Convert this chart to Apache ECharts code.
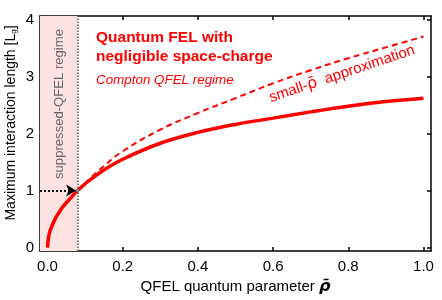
<!DOCTYPE html>
<html><head><meta charset="utf-8">
<script src="https://cdn.jsdelivr.net/npm/echarts@6/dist/echarts.min.js"></script>
<style>html,body{margin:0;padding:0;background:#fff}#c{width:442px;height:300px}</style>
</head><body><div id="c"></div>
<script>
const xTicks = [0, 0.2, 0.4, 0.6, 0.8, 1.0];
const yTicks = [0, 1, 2, 3, 4];
const rhoSolid = [0, 0.002, 0.005, 0.01, 0.02, 0.03, 0.04, 0.06, 0.08, 0.1, 0.15, 0.2, 0.3, 0.4, 0.5, 0.6, 0.7, 0.8, 0.9, 1.0];
const lenSolid = [0, 0.15, 0.25, 0.35, 0.5, 0.61, 0.71, 0.86, 1.0, 1.12, 1.36, 1.55, 1.83, 2.02, 2.16, 2.27, 2.38, 2.48, 2.56, 2.62];
const rhoDash = [0.08, 0.1, 0.15, 0.2, 0.3, 0.4, 0.5, 0.6, 0.7, 0.8, 0.9, 1.0];
const lenDash = [1.0, 1.13, 1.43, 1.69, 2.07, 2.36, 2.62, 2.88, 3.11, 3.32, 3.51, 3.7];
const rhoThreshold = 0.08;
const lenThreshold = 1;
const xMin = -0.02, xMax = 1.02, yMin = -0.06, yMax = 4.06;

const pair = (xs, ys) => xs.map((x, i) => [x, ys[i]]);
const F = '"Liberation Sans", Arial, sans-serif';

const baseAxis = {
  axisLine: {show: true, onZero: false, lineStyle: {color: '#000', width: 1.5}},
  splitLine: {show: false},
  axisTick: {show: true, inside: true, length: 4, lineStyle: {color: '#000', width: 1.5}},
};

const chart = echarts.init(document.getElementById('c'), null, {renderer: 'canvas'});
chart.setOption({
  animation: false,
  backgroundColor: '#fff',
  grid: {left: 40, right: 11, top: 16, bottom: 44},
  xAxis: [
    Object.assign({}, baseAxis, {
      type: 'value', min: xMin, max: xMax, position: 'bottom',
      axisTick: Object.assign({}, baseAxis.axisTick, {customValues: xTicks}),
      axisLabel: {customValues: xTicks, formatter: v => v.toFixed(1), color: '#000', fontSize: 15, fontFamily: F, margin: 8},
      name: 'QFEL quantum parameter {r|ρ̄}', nameLocation: 'middle', nameGap: 26,
      nameTextStyle: {color: '#000', fontSize: 15, fontFamily: F,
        rich: {r: {fontSize: 16, fontWeight: 'bold', fontStyle: 'italic', fontFamily: '"DejaVu Sans", sans-serif'}}}
    }),
    Object.assign({}, baseAxis, {
      type: 'value', min: xMin, max: xMax, position: 'top',
      axisTick: Object.assign({}, baseAxis.axisTick, {customValues: xTicks}),
      axisLabel: {show: false}
    })
  ],
  yAxis: [
    Object.assign({}, baseAxis, {
      type: 'value', min: yMin, max: yMax, position: 'left',
      axisTick: Object.assign({}, baseAxis.axisTick, {customValues: yTicks}),
      axisLabel: {customValues: yTicks, color: '#000', fontSize: 15, fontFamily: F, margin: 6}
    }),
    Object.assign({}, baseAxis, {
      type: 'value', min: yMin, max: yMax, position: 'right',
      axisTick: Object.assign({}, baseAxis.axisTick, {customValues: yTicks}),
      axisLabel: {show: false}
    })
  ],
  series: [
    {
      type: 'line', data: pair(rhoDash, lenDash), symbol: 'none', smooth: 0.4, z: 3,
      lineStyle: {color: '#ff0000', width: 2, type: [6, 4]}
    },
    {
      type: 'line', data: pair(rhoSolid, lenSolid), symbol: 'none', smooth: 0.4, z: 4,
      lineStyle: {color: '#ff0000', width: 3.5},
      markArea: {silent: true, itemStyle: {color: '#fde2e2'},
        data: [[{xAxis: xMin, yAxis: yMin}, {xAxis: rhoThreshold, yAxis: yMax}]]},
      markLine: {silent: true, animation: false, label: {show: false},
        data: [
          [{coord: [rhoThreshold, yMin], symbol: 'none'}, {coord: [rhoThreshold, yMax], symbol: 'none',
            lineStyle: {color: '#555', width: 1.5, type: [1.5, 1.5]}}],
          [{coord: [xMin, lenThreshold], symbol: 'none'}, {coord: [rhoThreshold - 0.004, lenThreshold], symbol: 'arrow', symbolSize: [9, 10],
            lineStyle: {color: '#000', width: 2, type: [2, 2]}}]
        ]}
    },
    {
      type: 'scatter', data: [[rhoThreshold, lenThreshold]], symbolSize: 3, z: 5,
      itemStyle: {color: '#22c5d5'}
    }
  ],
  graphic: [
    {type: 'text', left: 96, top: 28, z: 10, style: {text: 'Quantum FEL with\nnegligible space-charge', fill: '#ff0000',
      font: 'bold 15.5px ' + F, lineHeight: 19}},
    {type: 'text', left: 96, top: 74, z: 10, style: {text: 'Compton QFEL regime', fill: '#ff0000',
      font: 'italic 13.4px ' + F}},
    {type: 'text', x: 342, y: 74, rotation: 18.5 * Math.PI / 180, z: 10,
      style: {text: 'small-{r|ρ̄}  approximation', fill: '#ff0000', font: '15px ' + F, align: 'center', verticalAlign: 'middle',
        rich: {r: {fontSize: 16, fontFamily: '"DejaVu Sans", sans-serif', fill: '#ff0000'}}}},
    {type: 'text', x: 59, y: 104, rotation: Math.PI / 2, z: 10,
      style: {text: 'suppressed-QFEL regime', fill: '#666', font: '13.1px ' + F, align: 'center', verticalAlign: 'middle'}},
    {type: 'text', x: 11, y: 123, rotation: Math.PI / 2, z: 10,
      style: {text: 'Maximum interaction length [L{s|g}]', fill: '#000', font: '14px ' + F, align: 'center', verticalAlign: 'middle',
        rich: {s: {fontSize: 8, fontFamily: F, fill: '#000', padding: [6, 0, 0, 0]}}}}
  ]
});
</script></body></html>
